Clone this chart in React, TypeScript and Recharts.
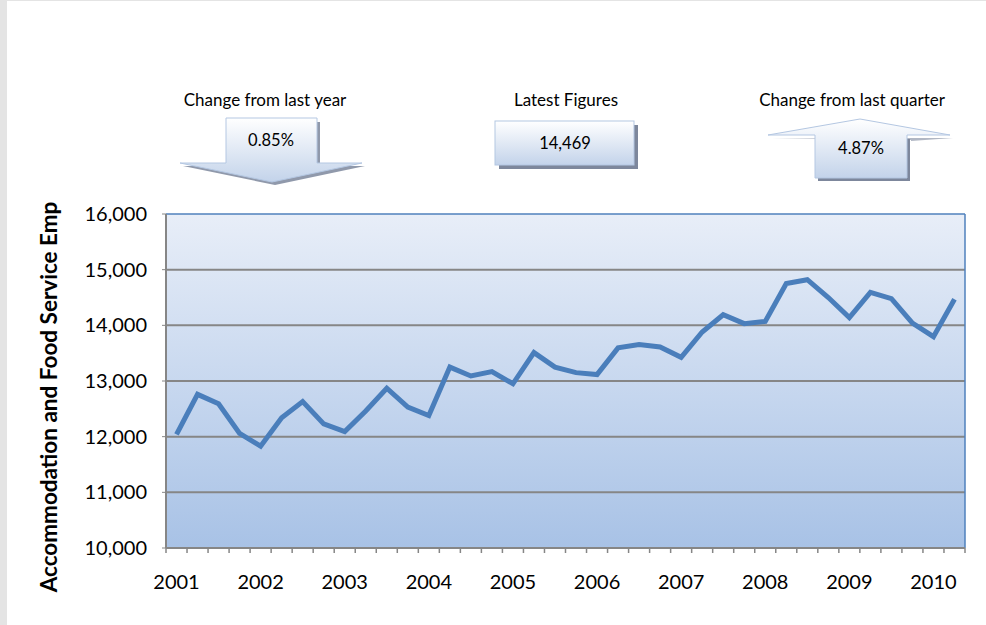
import React from 'react';
import { LineChart, Line, XAxis, YAxis, CartesianGrid, ReferenceLine } from 'recharts';

const years = ['2001', '2002', '2003', '2004', '2005', '2006', '2007', '2008', '2009', '2010'];
const quarters = ['Q1', 'Q2', 'Q3', 'Q4'];
const categories: string[] = [];
years.forEach((y) => quarters.forEach((q) => categories.push(`${y} ${q}`)));
categories.splice(38);

const employment = [
  12040, 12760, 12590, 12060, 11830, 12340, 12630, 12230, 12090, 12460,
  12870, 12530, 12380, 13250, 13090, 13170, 12950, 13510, 13250, 13150,
  13115, 13595, 13655, 13610, 13425, 13880, 14190, 14030, 14070, 14750,
  14820, 14500, 14140, 14593, 14480, 14040, 13797, 14469,
];

const yTicks = [10000, 11000, 12000, 13000, 14000, 15000, 16000];
const gridValues = [11000, 12000, 13000, 14000, 15000];

const panelTitles = ['Change from last year', 'Latest Figures', 'Change from last quarter'];
const panelValues = ['0.85%', '14,469', '4.87%'];

const data = categories.map((c, i) => ({ idx: i, label: c, value: employment[i] }));
const boundaryTicks = categories.map((_, i) => i - 0.5).concat([categories.length - 0.5]);
const yearTicks = categories.map((c, i) => (c.endsWith('Q1') ? i : -1)).filter((i) => i >= 0);
const domain = [-0.5, categories.length - 0.5];

const FONT = 'Lato, "Open Sans", sans-serif';

function Panels() {
  return (
    <svg width={986} height={200} style={{ position: 'absolute', left: 0, top: 0, pointerEvents: 'none' }}>
      <defs>
        <linearGradient id="boxGrad" x1="0" y1="0" x2="0" y2="1">
          <stop offset="0%" stopColor="#ffffff" />
          <stop offset="100%" stopColor="#c3d3ea" />
        </linearGradient>
      </defs>
      <g fontFamily={FONT} fontSize={17} fill="#000" textAnchor="middle">
        <text x={265} y={106}>{panelTitles[0]}</text>
        <text x={566} y={106}>{panelTitles[1]}</text>
        <text x={852} y={106}>{panelTitles[2]}</text>
      </g>
      {/* down arrow: change from last year */}
      <polygon points="229,122 320,122 320,166 365,166 275,185 183,166 229,166" fill="#7d879c" opacity={0.85} />
      <polygon points="226,118 317,118 317,163 362,163 272,182 180,163 226,163" fill="url(#boxGrad)" stroke="#b4c7e2" strokeWidth={1} />
      {/* latest box */}
      <rect x={499} y={125} width={139} height={44} fill="#7d879c" />
      <rect x={495} y={121} width={139} height={44} fill="url(#boxGrad)" stroke="#b4c7e2" strokeWidth={1} />
      {/* up arrow: change from last quarter */}
      <polygon points="818,139 910,139 910,181 818,181" fill="#7d879c" />
      <polygon points="772,138 953,138 911,141 911,140" fill="#7d879c" opacity={0.6} />
      <polygon points="860,119 950,135 907,135 907,178 815,178 815,135 768,135" fill="url(#boxGrad)" stroke="#b4c7e2" strokeWidth={1} />
      <g fontFamily={FONT} fontSize={16.5} fill="#000" textAnchor="middle">
        <text x={271} y={146}>{panelValues[0]}</text>
        <text x={565} y={149}>{panelValues[1]}</text>
        <text x={861} y={154}>{panelValues[2]}</text>
      </g>
    </svg>
  );
}

export default function App() {
  return (
    <div style={{ position: 'fixed', left: 0, top: 0, width: 986, height: 625, background: '#ffffff', overflow: 'hidden' }}>
      <div style={{ position: 'absolute', left: 0, top: 0, width: 7, height: 625, background: '#e4e4e4' }} />
      <div style={{ position: 'absolute', left: 0, top: 0, width: 986, height: 1, background: '#e4e4e4' }} />
      <div style={{ position: 'absolute', left: 0, top: 0 }}>
        <LineChart width={986} height={625} data={data} margin={{ top: 214, right: 21, bottom: 31, left: 0 }}>
          <defs>
            <linearGradient id="plotGrad" x1="0" y1="0" x2="0" y2="1">
              <stop offset="0%" stopColor="#e8eef8" />
              <stop offset="100%" stopColor="#a8c2e6" />
            </linearGradient>
          </defs>
          <CartesianGrid xAxisId="b" horizontal={false} vertical={false} fill="url(#plotGrad)" stroke="none" />
          <XAxis
            xAxisId="a"
            dataKey="idx"
            type="number"
            domain={domain}
            ticks={boundaryTicks}
            interval={0}
            height={6}
            tickSize={5}
            tickFormatter={() => ''}
            axisLine={{ stroke: '#868686', strokeWidth: 2 }}
            tickLine={{ stroke: '#868686', strokeWidth: 1.5 }}
          />
          <XAxis
            xAxisId="b"
            dataKey="idx"
            type="number"
            domain={domain}
            ticks={yearTicks}
            interval={0}
            height={40}
            tickSize={0}
            tickMargin={21}
            axisLine={false}
            tickLine={false}
            tickFormatter={(v: number) => categories[v].slice(0, 4)}
            tick={{ fontFamily: FONT, fontSize: 20, fill: '#000' }}
          />
          <YAxis
            type="number"
            domain={[10000, 16000]}
            ticks={yTicks}
            interval={0}
            width={166}
            tickSize={4}
            tickMargin={15}
            axisLine={{ stroke: '#868686', strokeWidth: 2 }}
            tickLine={{ stroke: '#868686', strokeWidth: 1 }}
            tickFormatter={(v: number) => v.toLocaleString('en-US')}
            tick={{ fontFamily: FONT, fontSize: 20, fill: '#000' }}
            label={{
              content: () => (
                <text
                  x={57}
                  y={397}
                  transform="rotate(-90 57 397)"
                  textAnchor="middle"
                  fontFamily={FONT}
                  fontWeight="bold"
                  fontSize={22.5}
                  fill="#000"
                >
                  Accommodation and Food Service Emp
                </text>
              ),
            }}
          />
          {gridValues.map((v) => (
            <ReferenceLine key={v} xAxisId="b" y={v} stroke="#868686" strokeWidth={2} />
          ))}
          <ReferenceLine xAxisId="b" y={16000} stroke="#4f81bd" strokeWidth={1.5} />
          <ReferenceLine xAxisId="b" x={categories.length - 0.5} stroke="#4f81bd" strokeWidth={1.5} />
          <Line
            xAxisId="b"
            type="linear"
            dataKey="value"
            stroke="#4a7ebb"
            strokeWidth={5}
            dot={false}
            isAnimationActive={false}
          />
        </LineChart>
      </div>
      <Panels />
    </div>
  );
}
